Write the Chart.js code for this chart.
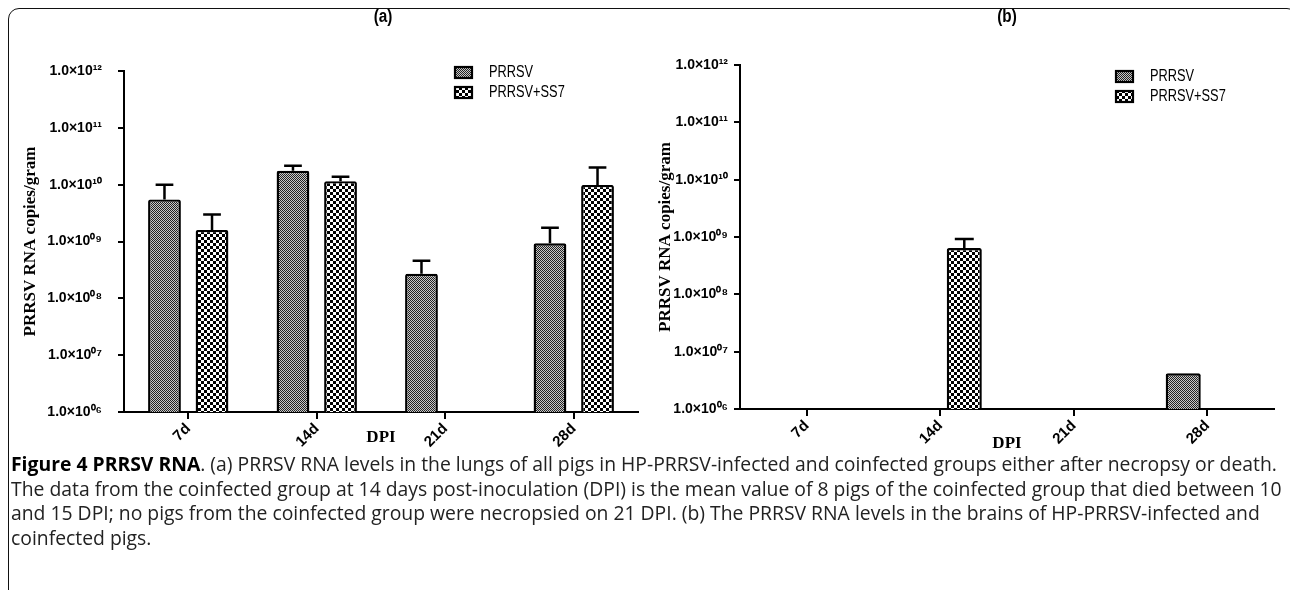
<!DOCTYPE html>
<html>
<head>
<meta charset="utf-8">
<script src="https://cdn.jsdelivr.net/npm/chart.js@4.4.1/dist/chart.umd.min.js"></script>
<style>
  html, body { margin: 0; padding: 0; background: #fff; }
  #page { position: relative; width: 1290px; height: 590px; overflow: hidden; }
  #frame {
    position: absolute; left: 8px; top: 8px; width: 1290px; height: 640px;
    border: 1.5px solid #111; border-radius: 11px; box-sizing: border-box;
  }
  .panel { position: absolute; top: 0; height: 460px; }
  .ptitle {
    position: absolute; top: 6px; font: bold 18px "Liberation Sans", sans-serif;
    transform: translateX(-50%) scaleX(0.85);
  }
  #caption {
    position: absolute; left: 11px; top: 452px;
    font: 19.35px "Open Sans", sans-serif; line-height: 24.6px; color: #222;
    white-space: nowrap;
  }
  #caption b { color: #000; }
</style>
</head>
<body>
<div id="page">
  <div id="frame"></div>
  <div class="panel" style="left:0;width:660px"><canvas id="lungs"></canvas></div>
  <div class="panel" style="left:648px;width:642px"><canvas id="brains"></canvas></div>
  <div class="ptitle" style="left:383px">(a)</div>
  <div class="ptitle" style="left:1007px">(b)</div>
  <div id="caption"><b>Figure 4 PRRSV RNA</b>. (a) PRRSV RNA levels in the lungs of all pigs in HP-PRRSV-infected and coinfected groups either after necropsy or death.<br>The data from the coinfected group at 14 days post-inoculation (DPI) is the mean value of 8 pigs of the coinfected group that died between 10<br>and 15 DPI; no pigs from the coinfected group were necropsied on 21 DPI. (b) The PRRSV RNA levels in the brains of HP-PRRSV-infected and<br>coinfected pigs.</div>
</div>
<script>
var days = ["7d", "14d", "21d", "28d"];
var seriesNames = ["PRRSV", "PRRSV+SS7"];
var yTicks = [1e6, 1e7, 1e8, 1e9, 1e10, 1e11, 1e12];

// (a) lungs: means and the top of each error bar
var lungPRRSV    = [5.5e9, 1.75e10, 2.7e8, 9.3e8];
var lungPRRSVTop = [1.0e10, 2.15e10, 4.6e8, 1.75e9];
var lungCoinf    = [1.6e9, 1.15e10, null, 9.9e9];
var lungCoinfTop = [3.0e9, 1.38e10, null, 2.0e10];

// (b) brains
var brainPRRSV    = [null, null, null, 4.2e6];
var brainPRRSVTop = [null, null, null, null];
var brainCoinf    = [null, 6.4e8, null, null];
var brainCoinfTop = [null, 9.2e8, null, null];

function makePattern(cell, dark, light) {
  var c = document.createElement("canvas");
  c.width = cell * 2; c.height = cell * 2;
  var g = c.getContext("2d");
  g.fillStyle = light; g.fillRect(0, 0, cell * 2, cell * 2);
  g.fillStyle = dark;
  g.fillRect(0, 0, cell, cell);
  g.fillRect(cell, cell, cell, cell);
  return g.createPattern(c, "repeat");
}
var fineFill = makePattern(1, "#222", "#c8c8c8");
var checkFill = makePattern(3, "#000", "#fff");

var sup = { "0": "\u2070", "1": "\u00b9", "2": "\u00b2", "3": "\u00b3", "4": "\u2074",
            "5": "\u2075", "6": "\u2076", "7": "\u2077", "8": "\u2078", "9": "\u2079" };
function expLabel(v) {
  var e = String(Math.round(Math.log10(v))).padStart(2, "0");
  return "1.0\u00d710" + e.split("").map(function (d) { return sup[d]; }).join("");
}

// upward error bars with a cap
var errorBars = {
  id: "errorBars",
  afterDatasetsDraw: function (chart) {
    var ctx = chart.ctx, y = chart.scales.y;
    ctx.save();
    ctx.strokeStyle = "#000";
    ctx.lineWidth = 2.5;
    chart.data.datasets.forEach(function (ds, i) {
      var meta = chart.getDatasetMeta(i);
      meta.data.forEach(function (bar, j) {
        var top = ds.errTop[j];
        if (top == null || ds.data[j] == null) return;
        var yTop = y.getPixelForValue(top);
        var half = bar.width * 0.27;
        ctx.beginPath();
        ctx.moveTo(bar.x, bar.y);
        ctx.lineTo(bar.x, yTop);
        ctx.moveTo(bar.x - half, yTop);
        ctx.lineTo(bar.x + half, yTop);
        ctx.stroke();
      });
    });
    ctx.restore();
  }
};

// legend drawn inside the plot area with the pattern swatches
var boxLegend = {
  id: "boxLegend",
  afterDraw: function (chart, args, opts) {
    var ctx = chart.ctx;
    ctx.save();
    ctx.font = '16px "Liberation Sans", sans-serif';
    ctx.textBaseline = "middle";
    chart.data.datasets.forEach(function (ds, i) {
      var yy = opts.y + i * opts.gap;
      ctx.fillStyle = ds.backgroundColor;
      ctx.fillRect(opts.x, yy - 5, 17, 11);
      ctx.lineWidth = 2.2;
      ctx.strokeStyle = "#000";
      ctx.strokeRect(opts.x, yy - 5, 17, 11);
      ctx.save();
      ctx.translate(opts.x + 34, yy + 1);
      ctx.scale(0.8, 1);
      ctx.fillStyle = "#000";
      ctx.fillText(ds.label, 0, 0);
      ctx.restore();
    });
    ctx.restore();
  }
};

function buildChart(id, a, aTop, b, bTop, cfg) {
  return new Chart(document.getElementById(id), {
    type: "bar",
    data: {
      labels: days,
      datasets: [
        { label: seriesNames[0], data: a, errTop: aTop, backgroundColor: fineFill },
        { label: seriesNames[1], data: b, errTop: bTop, backgroundColor: checkFill }
      ]
    },
    options: {
      responsive: false,
      animation: false,
      devicePixelRatio: 1,
      layout: { padding: { top: cfg.top, right: cfg.right, left: 0, bottom: 0 } },
      datasets: {
        bar: {
          borderColor: "#000", borderWidth: 2.4, borderRadius: 2,
          categoryPercentage: cfg.catPct, barPercentage: cfg.barPct
        }
      },
      plugins: {
        legend: { display: false },
        tooltip: { enabled: false },
        boxLegend: cfg.legend
      },
      scales: {
        x: {
          grid: { offset: false, drawOnChartArea: false, color: "#000", lineWidth: 2, tickLength: 7 },
          border: { color: "#000", width: 2 },
          ticks: { color: "#000", font: { family: "Liberation Sans", weight: "bold", size: 15 },
                   maxRotation: 45, minRotation: 45, padding: 1 },
          title: { display: true, text: "DPI", color: "#000",
                   font: { family: "Liberation Serif", weight: "bold", size: 17 },
                   padding: { top: 0, bottom: cfg.xTitlePad } },
          afterFit: function (s) { s.height = cfg.xHeight; }
        },
        y: {
          type: "logarithmic",
          min: 1e6, max: 1e12,
          grid: { drawOnChartArea: false, color: "#000", lineWidth: 2, tickLength: 6 },
          border: { color: "#000", width: 2 },
          afterBuildTicks: function (s) { s.ticks = yTicks.map(function (v) { return { value: v }; }); },
          ticks: { color: "#000", font: { family: "Liberation Sans", weight: "bold", size: 14 },
                   padding: cfg.yTickPad, callback: function (v) { return expLabel(v); } },
          title: { display: true, text: "PRRSV RNA copies/gram", color: "#000",
                   font: { family: "Liberation Serif", weight: "bold", size: 17 },
                   padding: { top: cfg.yTitlePad, bottom: 0 } },
          afterFit: function (s) { s.width = cfg.yWidth; }
        }
      }
    },
    plugins: [errorBars, boxLegend]
  });
}

var cA = document.getElementById("lungs"); cA.width = 660; cA.height = 460;
var cB = document.getElementById("brains"); cB.width = 642; cB.height = 460;

buildChart("lungs", lungPRRSV, lungPRRSVTop, lungCoinf, lungCoinfTop, {
  top: 71, right: 22, yWidth: 124, xHeight: 48, yTickPad: 16, yTitlePad: 20, xTitlePad: 12,
  catPct: 0.74, barPct: 0.69, legend: { x: 455, y: 72, gap: 20 }
});
buildChart("brains", brainPRRSV, brainPRRSVTop, brainCoinf, brainCoinfTop, {
  top: 65, right: 16, yWidth: 92, xHeight: 51, yTickPad: 6, yTitlePad: 7, xTitlePad: 6,
  catPct: 0.72, barPct: 0.73, legend: { x: 468, y: 76, gap: 20 }
});
</script>
</body>
</html>
